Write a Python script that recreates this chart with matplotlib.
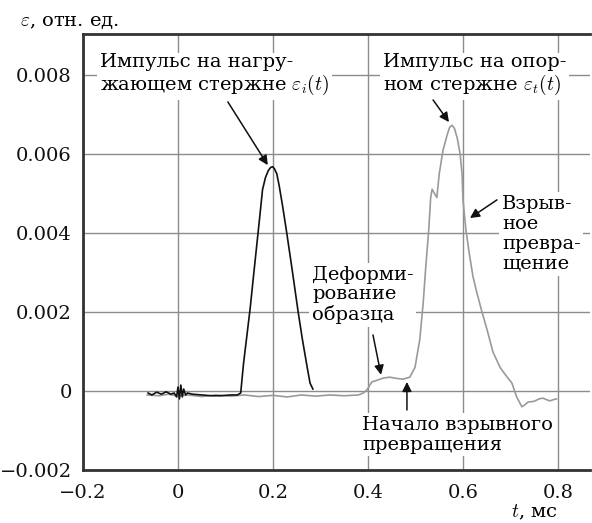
import numpy as np
import matplotlib
matplotlib.use("Agg")
import matplotlib.pyplot as plt

plt.rcParams['font.family'] = ['DejaVu Serif']
plt.rcParams['mathtext.fontset'] = 'cm'

# incident pulse eps_i(t), black
t_inc = [-0.063, -0.055, -0.045, -0.035, -0.025, -0.015, -0.008, -0.003, 0.0, 0.003,
         0.006, 0.009, 0.012, 0.016, 0.02, 0.03, 0.05, 0.07, 0.09, 0.11, 0.125, 0.132,
         0.138, 0.145, 0.152, 0.158, 0.165, 0.172, 0.178, 0.184, 0.19, 0.195, 0.199,
         0.203, 0.208, 0.213, 0.22, 0.229, 0.24, 0.253, 0.262, 0.272, 0.278, 0.284]
eps_inc = [-0.00005, -0.0001, -0.00003, -0.00008, -0.00002, -0.00008, -0.00005, -0.00015,
           0.0001, -0.0002, 0.00015, -0.00015, 0.00005, -0.0001, -0.00005, -0.00008,
           -0.0001, -0.00012, -0.00012, -0.0001, -0.0001, -0.00005, 0.0007, 0.0014,
           0.0021, 0.0028, 0.0036, 0.0044, 0.0051, 0.0054, 0.00558, 0.00566, 0.00568,
           0.00563, 0.0055, 0.0052, 0.0047, 0.0040, 0.0031, 0.0020, 0.0013, 0.0006,
           0.0002, 0.00005]

# transmitted pulse eps_t(t), grey
t_tr = [-0.065, -0.04, -0.02, 0.0, 0.02, 0.05, 0.08, 0.11, 0.14, 0.17, 0.2, 0.23, 0.26,
        0.29, 0.32, 0.35, 0.38, 0.39, 0.398, 0.408, 0.421, 0.433, 0.446, 0.46, 0.474,
        0.488, 0.499, 0.509, 0.516, 0.522, 0.528, 0.532, 0.535, 0.540, 0.545, 0.55,
        0.558, 0.567, 0.572, 0.577, 0.582, 0.588, 0.594, 0.598, 0.60, 0.606, 0.613,
        0.621, 0.629, 0.64, 0.651, 0.663, 0.678, 0.69, 0.703, 0.713, 0.724, 0.73,
        0.737, 0.75, 0.76, 0.768, 0.776, 0.783, 0.79, 0.797]
eps_tr = [-0.0001, -0.00012, -0.00008, -0.00013, -0.0001, -0.00014, -0.0001, -0.00013,
          -0.0001, -0.00014, -0.00011, -0.00015, -0.0001, -0.00013, -0.0001, -0.00012,
          -0.0001, -0.00005, 0.00003, 0.00023, 0.00028, 0.00033, 0.00035, 0.00032,
          0.0003, 0.00035, 0.0006, 0.0013, 0.0022, 0.0032, 0.0041, 0.0049, 0.00511,
          0.0050, 0.0049, 0.0055, 0.0061, 0.0065, 0.00668, 0.00673, 0.00665, 0.0064,
          0.0060, 0.0055, 0.00484, 0.0041, 0.0035, 0.0029, 0.0025, 0.002, 0.00154,
          0.00099, 0.0006, 0.0004, 0.0002, -0.00015, -0.0004, -0.00035, -0.00028,
          -0.00026, -0.0002, -0.00018, -0.00022, -0.00025, -0.00022, -0.0002]

x_ticks = [-0.2, 0, 0.2, 0.4, 0.6, 0.8]
x_labels = ['\u22120.2', '0', '0.2', '0.4', '0.6', '0.8']
y_ticks = [-0.002, 0, 0.002, 0.004, 0.006, 0.008]
y_labels = ['\u22120.002', '0', '0.002', '0.004', '0.006', '0.008']

fig = plt.figure(figsize=(5.92, 5.23), dpi=100)
ax = fig.add_axes([83/592, 53/523, 507/592, 436/523])

ax.plot(t_tr, eps_tr, color='#9a9a9a', lw=1.2, zorder=3)
ax.plot(t_inc, eps_inc, color='#111111', lw=1.2, zorder=4)

ax.set_xlim(-0.2, 0.8674)
ax.set_ylim(-0.002, 0.00904)
ax.set_xticks(x_ticks)
ax.set_xticklabels(x_labels)
ax.set_yticks(y_ticks)
ax.set_yticklabels(y_labels)
ax.tick_params(length=0, labelsize=14, colors='#111111')
ax.tick_params(axis='y', pad=8)
ax.tick_params(axis='x', pad=10)
ax.grid(True, color='#8c8c8c', lw=1.0, zorder=1)
ax.set_axisbelow(True)
for s in ['left', 'bottom', 'top']:
    ax.spines[s].set_linewidth(2)
    ax.spines[s].set_color('#333333')
ax.spines['right'].set_visible(False)

box = dict(fc='white', ec='none', pad=2)
arr = dict(arrowstyle='-|>', color='#111111', lw=1.1, mutation_scale=14, shrinkA=0, shrinkB=0)
fs = 14

ax.text(-0.164, 0.008, 'Импульс на нагру-\nжающем стержне $\\varepsilon_i(t)$', ha='left',
        va='center', fontsize=fs, bbox=box, linespacing=1.1, zorder=6)
ax.annotate('', xy=(0.189, 0.00572), xytext=(0.105, 0.00732), arrowprops=arr, zorder=6)

ax.text(0.4316, 0.008, 'Импульс на опор-\nном стержне $\\varepsilon_t(t)$', ha='left',
        va='center', fontsize=fs, bbox=box, linespacing=1.1, zorder=6)
ax.annotate('', xy=(0.5705, 0.00681), xytext=(0.537, 0.00737), arrowprops=arr, zorder=6)

ax.text(0.682, 0.00398, 'Взрыв-\nное\nпревра-\nщение', ha='left', va='center',
        fontsize=fs, bbox=box, linespacing=1.15, zorder=6)
ax.annotate('', xy=(0.6147, 0.00438), xytext=(0.6716, 0.00484), arrowprops=arr, zorder=6)

ax.text(0.282, 0.00243, 'Деформи-\nрование\nобразца', ha='left', va='center',
        fontsize=fs, bbox=box, linespacing=1.1, zorder=6)
ax.annotate('', xy=(0.4274, 0.00041), xytext=(0.4105, 0.00142), arrowprops=arr, zorder=6)

ax.text(0.3874, -0.00111, 'Начало взрывного\nпревращения', ha='left', va='center',
        fontsize=fs, bbox=box, linespacing=1.1, zorder=6)
ax.annotate('', xy=(0.482, 0.00023), xytext=(0.482, -0.00048), arrowprops=arr, zorder=6)

fig.text(20/592, 1 - 22/523, '$\\varepsilon$, отн. ед.', ha='left', va='center', fontsize=fs)
fig.text(558/592, 1 - 512/523, '$t$, мс', ha='right', va='center', fontsize=fs)

fig.savefig('out.png', dpi=100)
